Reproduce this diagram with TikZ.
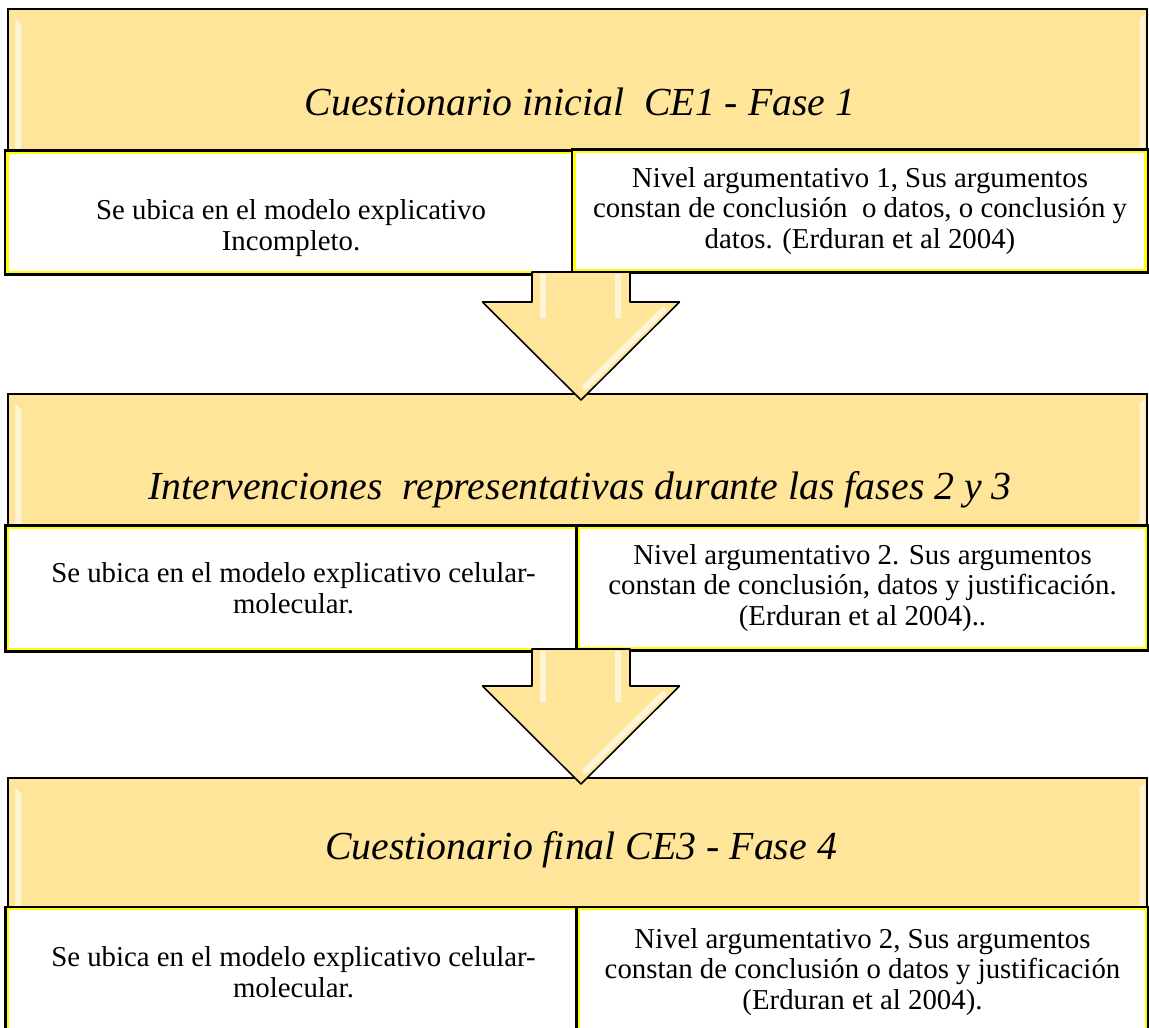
\documentclass[tikz,border=0pt]{standalone}
\usepackage{fontspec}
\setmainfont{Liberation Serif}
\usetikzlibrary{calc}
\definecolor{headgold}{RGB}{255,229,153}
\definecolor{cellline}{RGB}{255,255,0}
\newcommand\pxu{0.025cm}
% block arrow: #1 top of the shaft, #2 tip
\newcommand\downblock[2]{%
\draw[blockarrow] ($(#1)+(-49,0)$) -- ($(#1)+(49,0)$) -- ($(#2)+(49,-98)$) -- ($(#2)+(98.5,-98)$) -- (#2) -- ($(#2)+(-98.5,-98)$) -- ($(#2)+(-49,-98)$) -- cycle;
\fill[shine] ($(#1)+(-41,2)$) rectangle ($(#2)+(-35,-82)$);
\fill[shine] ($(#1)+(34,2)$) rectangle ($(#2)+(40,-82)$);
\draw[shine line] ($(#2)+(82,-90)$) -- ($(#2)+(4,-13)$);
}
\tikzset{
  header/.style={draw=black, line width=1pt, fill=headgold, inner sep=0pt},
  cell/.style={fill=white, draw=cellline, line width=2pt, preaction={draw=black, line width=5pt}, inner sep=0pt, align=center, font=\fontsize{20.5}{22}\selectfont},
  titletext/.style={font=\fontsize{28.3}{30}\selectfont\itshape},
  shine/.style={fill=white, opacity=.6},
  shine line/.style={draw=white, opacity=.65, line width=4pt, line cap=round},
  blockarrow/.style={fill=headgold, draw=black, line width=1.1pt, line join=round}
}
\begin{document}
\begin{tikzpicture}[x=0.025cm, y=-0.025cm]
\useasboundingbox (0,0) rectangle (1149,1027);

% headers
\node[header, minimum width=1139*\pxu, minimum height=144*\pxu] (hdr1) at (577.5,81) {};
\node[header, minimum width=1139*\pxu, minimum height=134*\pxu] (hdr2) at (577.5,461) {};
\node[header, minimum width=1139*\pxu, minimum height=131*\pxu] (hdr3) at (577.5,843.5) {};
\foreach \h in {hdr1,hdr2,hdr3}{
  \fill[shine] ($(\h.north west)+(8,10)$) -- ($(\h.north west)+(14,16)$) -- ($(\h.south west)+(14,0)$) -- ($(\h.south west)+(8,0)$) -- cycle;
  \fill[shine] ($(\h.north east)+(-8,10)$) -- ($(\h.north east)+(-3,6)$) -- ($(\h.south east)+(-3,0)$) -- ($(\h.south east)+(-8,0)$) -- cycle;
}
\node[titletext] (t1) at (580,102) {Cuestionario inicial\ \ CE1 - Fase 1};
\node[titletext] (t2) at (580,490) {Intervenciones\ \ representativas durante las fases 2 y 3};
\node[titletext] (t3) at (581,850) {Cuestionario final CE3 - Fase 4};

% cells
\node[cell, minimum width=567*\pxu, minimum height=119*\pxu] (l1) at (291,212.5) {\rule{0pt}{36pt}Se ubica en el modelo explicativo\\Incompleto.};
\node[cell, minimum width=571*\pxu, minimum height=118*\pxu] (r1) at (860,211) {Nivel argumentativo 1, Sus argumentos\\constan de conclusión\ \ o datos, o conclusión y\\datos. (Erduran et al 2004)};
\node[cell, minimum width=571*\pxu, minimum height=121*\pxu] (l2) at (293.5,588.5) {Se ubica en el modelo explicativo celular-\\molecular.};
\node[cell, minimum width=567*\pxu, minimum height=120*\pxu] (r2) at (862.5,588) {Nivel argumentativo 2. Sus argumentos\\constan de conclusión, datos y justificación.\\(Erduran et al 2004)..};
\node[cell, minimum width=571*\pxu, minimum height=126*\pxu] (l3) at (293.5,972) {Se ubica en el modelo explicativo celular-\\molecular.};
\node[cell, minimum width=567*\pxu, minimum height=126*\pxu] (r3) at (862.5,972) {Nivel argumentativo 2, Sus argumentos\\constan de conclusión o datos y justificación\\(Erduran et al 2004).};

% arrows between the phases
\coordinate (a1s) at (581,272);
\coordinate (a1e) at (581,400);
\coordinate (a2s) at (581,649);
\coordinate (a2e) at (581,784);
\downblock{a1s}{a1e}
\downblock{a2s}{a2e}
\end{tikzpicture}
\end{document}
